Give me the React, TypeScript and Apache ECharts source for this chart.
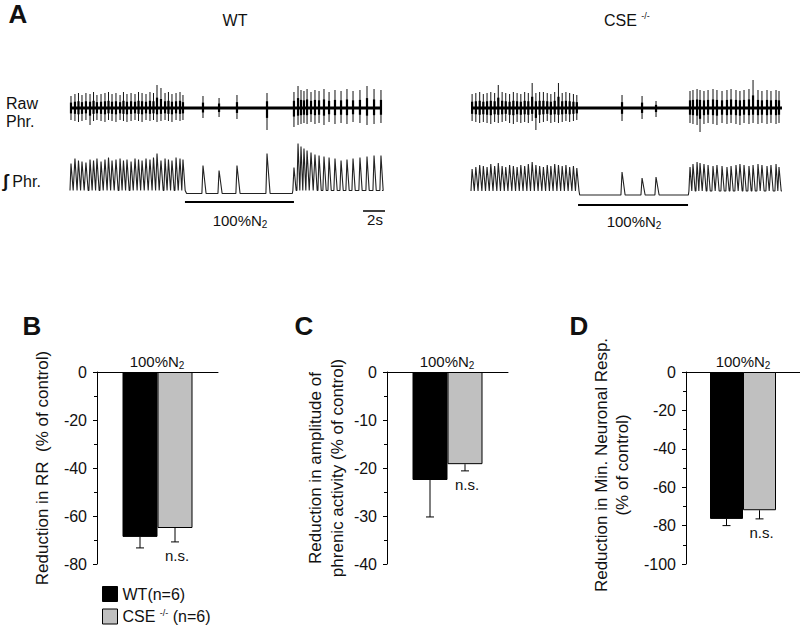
import React, { useEffect, useRef } from "react";
import * as echarts from "echarts";

const FONT = "'Liberation Sans', Arial, Helvetica, sans-serif";

// ---------- Panel A: phrenic nerve recordings (time in s, amplitudes in arbitrary units) ----------
const traceMax = 28.7;
const scaleBarS = [26.64, 28.64]; // 2 s scale bar

// WT
const wtEnd = 28.36;
const wtHypoxia = [10.45, 20.36];
const wtBurstT = [
  0.09, 0.45, 0.77, 1.09, 1.45, 1.82, 2.14, 2.45, 2.82, 3.18,
  3.50, 3.82, 4.18, 4.55, 4.86, 5.18, 5.55, 5.91, 6.23, 6.55,
  6.91, 7.27, 7.59, 7.91, 8.27, 8.64, 8.95, 9.27, 9.64, 10.00, 10.27,
  12.09, 13.55, 15.18, 17.91,
  20.36, 20.73, 21.00, 21.27, 21.55, 21.91, 22.27, 22.64, 23.09, 23.55,
  24.09, 24.64, 25.18, 25.73, 26.36, 27.00, 27.64, 28.27,
];
const wtRawUp = [
  12, 14, 15, 13, 15, 14, 16, 13, 14, 15,
  16, 14, 15, 13, 16, 14, 15, 14, 16, 15,
  14, 16, 15, 23, 20, 15, 16, 14, 15, 16, 13,
  12, 10, 13, 15,
  16, 22, 18, 17, 19, 16, 18, 17, 19, 16,
  18, 17, 19, 17, 18, 22, 19, 18,
];
const wtRawDown = [
  12, 13, 14, 13, 12, 17, 13, 12, 13, 14,
  12, 13, 14, 12, 13, 14, 13, 12, 13, 14,
  12, 13, 12, 14, 13, 12, 13, 14, 12, 13, 12,
  10, 9, 11, 22,
  19, 17, 16, 15, 16, 14, 16, 15, 17, 14,
  16, 15, 16, 14, 15, 17, 16, 15,
];
const wtIntPeak = [
  30, 35, 33, 32, 31, 34, 33, 35, 32, 34,
  36, 33, 34, 35, 33, 34, 32, 35, 34, 33,
  35, 34, 36, 40, 33, 35, 34, 33, 36, 35, 34,
  28, 23, 28, 40,
  26, 50, 47, 45, 43, 41, 39, 38, 37, 36,
  35, 33, 34, 35, 36, 37, 38, 38,
];
const wtTrough = 3;

// CSE-/-
const cseEnd = 28.27;
const cseHypoxia = [9.73, 19.73];
const cseBurstT = [
  0.10, 0.44, 0.79, 1.12, 1.46, 1.80, 2.15, 2.48, 2.83, 3.16,
  3.51, 3.85, 4.19, 4.53, 4.88, 5.21, 5.56, 5.90, 6.24, 6.58,
  6.93, 7.26, 7.61, 7.95, 8.29, 8.63, 8.97, 9.31, 9.62,
  13.73, 15.55, 16.82,
  19.91, 20.18, 20.55, 20.82, 21.18, 21.55, 22.00, 22.36, 22.82, 23.27,
  23.64, 24.09, 24.45, 24.82, 25.27, 25.64, 26.09, 26.45, 26.91, 27.27,
  27.73, 28.00,
];
const cseRawUp = [
  14, 15, 16, 14, 15, 16, 15, 23, 16, 15,
  14, 16, 15, 14, 16, 15, 25, 15, 16, 16,
  15, 14, 16, 25, 15, 16, 15, 14, 13,
  13, 12, 7,
  17, 18, 19, 18, 17, 18, 19, 18, 17, 18,
  19, 18, 17, 18, 19, 28, 18, 17, 18, 17,
  18, 17,
];
const cseRawDown = [
  13, 14, 15, 14, 15, 16, 14, 15, 14, 13,
  15, 16, 14, 15, 14, 15, 13, 22, 15, 14,
  13, 15, 14, 15, 14, 13, 14, 13, 12,
  13, 11, 9,
  15, 16, 17, 24, 16, 15, 16, 17, 15, 16,
  15, 16, 17, 15, 16, 15, 16, 15, 16, 15,
  16, 15,
];
const cseIntPeak = [
  26, 28, 30, 29, 28, 31, 29, 32, 29, 28,
  30, 29, 28, 30, 29, 31, 33, 30, 29, 28,
  30, 29, 31, 30, 29, 30, 28, 29, 27,
  23, 17, 18,
  28, 31, 33, 32, 31, 30, 29, 30, 29, 28,
  29, 30, 31, 30, 29, 30, 31, 30, 29, 30,
  31, 28,
];
const cseTrough = 4;

// ---------- Panels B–D: reduction (% of control), mean and SEM ----------
const wtMean = [-68.7, -22.5, -76.5];
const wtSem = [4.6, 7.7, 3.5];
const cseMean = [-65.0, -19.2, -72.0];
const cseSem = [5.8, 1.4, 4.5];
const yMins = [-80, -40, -100];
const yIntervals = [20, 10, 20];
const seriesNames = ["WT(n=6)", "CSE -/- (n=6)"];

function integratedLine(ts: number[], peaks: number[], hyp: number[], trough: number, end: number) {
  const pts: number[][] = [[0, trough]];
  let prevIn = false;
  ts.forEach((t, i) => {
    const inHyp = t > hyp[0] && t < hyp[1];
    const tr = inHyp ? 0 : trough;
    if (inHyp && !prevIn) pts.push([hyp[0] + 0.15, 0]);
    if (!inHyp && prevIn) pts.push([t - 0.15, 0]);
    prevIn = inHyp;
    const prevGap = i > 0 ? t - ts[i - 1] : 0.4;
    const nextGap = i < ts.length - 1 ? ts[i + 1] - t : 0.4;
    const rise = Math.min(0.1, prevGap * 0.3);
    const fall = Math.min(inHyp ? 0.28 : 0.2, nextGap * 0.6);
    pts.push([t - rise, tr], [t, peaks[i]], [t + fall, tr]);
  });
  pts.push([end, trough]);
  return pts;
}

function rawRender(params: any, api: any) {
  const t = api.value(0);
  const up = api.value(1);
  const dn = api.value(2);
  const a = api.coord([t, up]);
  const b = api.coord([t, -dn]);
  const c = api.coord([t, up * 0.45]);
  const d = api.coord([t, -dn * 0.45]);
  return {
    type: "group",
    children: [
      { type: "line", shape: { x1: a[0], y1: a[1], x2: b[0], y2: b[1] }, style: { stroke: "#111", lineWidth: 1 } },
      { type: "line", shape: { x1: c[0], y1: c[1], x2: d[0], y2: d[1] }, style: { stroke: "#000", lineWidth: 2.2 } },
    ],
  };
}

function traceSeries(
  rawIdx: number, intIdx: number, ts: number[], up: number[], dn: number[], peaks: number[],
  hyp: number[], trough: number, end: number, hypY: number
) {
  return [
    {
      type: "line", xAxisIndex: rawIdx, yAxisIndex: rawIdx, data: [[0, 0], [end, 0]],
      symbol: "none", lineStyle: { color: "#000", width: 3 }, silent: true,
    },
    {
      type: "custom", xAxisIndex: rawIdx, yAxisIndex: rawIdx, clip: false,
      data: ts.map((t, i) => [t, up[i], dn[i]]), encode: { x: 0, y: 1 }, renderItem: rawRender, silent: true,
    },
    {
      type: "line", xAxisIndex: intIdx, yAxisIndex: intIdx, data: integratedLine(ts, peaks, hyp, trough, end),
      symbol: "none", lineStyle: { color: "#222", width: 1.1 }, silent: true,
    },
    {
      type: "line", xAxisIndex: intIdx, yAxisIndex: intIdx, data: [[hyp[0], hypY], [hyp[1], hypY]],
      symbol: "none", lineStyle: { color: "#000", width: 2 }, silent: true,
    },
  ];
}

function errRender(params: any, api: any) {
  const cat = api.value(0);
  const m = api.value(1);
  const e = api.value(2);
  const off = api.value(3);
  const ns = api.value(4);
  const p0 = api.coord([cat, m]);
  const p1 = api.coord([cat, m - e]);
  const x = p0[0] + off;
  const children: any[] = [
    { type: "line", shape: { x1: x, y1: p0[1], x2: x, y2: p1[1] }, style: { stroke: "#000", lineWidth: 1 } },
    { type: "line", shape: { x1: x - 4, y1: p1[1], x2: x + 4, y2: p1[1] }, style: { stroke: "#000", lineWidth: 1 } },
  ];
  if (ns) {
    children.push({
      type: "text", x: x + 2, y: p1[1] + 14,
      style: { text: "n.s.", font: `15px ${FONT}`, fill: "#111", align: "center", verticalAlign: "middle" },
    });
  }
  return { type: "group", children };
}

const n2Rich = {
  a: { fontSize: 15, fontFamily: FONT, lineHeight: 20, fill: "#111" },
  s: { fontSize: 10, fontFamily: FONT, lineHeight: 12, padding: [8, 0, 0, 0], fill: "#111" },
};

function label(x: number, y: number, text: string, size: number, extra: any = {}) {
  return {
    type: "text", x, y,
    style: { text, font: `${extra.bold ? "bold " : ""}${size}px ${FONT}`, fill: "#111", align: extra.align || "center", verticalAlign: "middle" },
  };
}

function buildOption() {
  const barLefts = [97, 387, 686];
  const barWidthsPx = [121, 121, 114];
  const barW = [35, 35, 33];

  const grids: any[] = [
    { left: 70, top: 78, width: 315.7, height: 60 },
    { left: 70, top: 135.5, width: 315.7, height: 83 },
    { left: 471, top: 78, width: 315.7, height: 60 },
    { left: 471, top: 137, width: 315.7, height: 83 },
  ];
  const xAxes: any[] = [];
  const yAxes: any[] = [];
  for (let i = 0; i < 4; i++) {
    xAxes.push({ type: "value", gridIndex: i, min: 0, max: traceMax, show: false });
    yAxes.push(i % 2 === 0
      ? { type: "value", gridIndex: i, min: -30, max: 30, show: false }
      : { type: "value", gridIndex: i, min: -25, max: 58, show: false });
  }

  const series: any[] = [
    ...traceSeries(0, 1, wtBurstT, wtRawUp, wtRawDown, wtIntPeak, wtHypoxia, wtTrough, wtEnd, -8.5),
    ...traceSeries(2, 3, cseBurstT, cseRawUp, cseRawDown, cseIntPeak, cseHypoxia, cseTrough, cseEnd, -10),
    {
      type: "line", xAxisIndex: 1, yAxisIndex: 1, data: [[scaleBarS[0], -17.5], [scaleBarS[1], -17.5]],
      symbol: "none", lineStyle: { color: "#000", width: 1.5 }, silent: true, clip: false,
    },
  ];

  const axisLine = { show: true, onZero: true, lineStyle: { color: "#000", width: 1 } };
  for (let k = 0; k < 3; k++) {
    const gi = 4 + k;
    grids.push({ left: barLefts[k], top: 372, width: barWidthsPx[k], height: 192 });
    xAxes.push({
      type: "category", gridIndex: gi, data: ["100%N2"], axisLine,
      axisTick: { show: false }, axisLabel: { show: false }, splitLine: { show: false },
    });
    yAxes.push({
      type: "value", gridIndex: gi, min: yMins[k], max: 0, interval: yIntervals[k],
      axisLine: { show: true, lineStyle: { color: "#000", width: 1 } },
      axisTick: { show: true, inside: false, length: 4, lineStyle: { color: "#000", width: 1 } },
      minorTick: { show: true, splitNumber: 2, length: 3, lineStyle: { color: "#000", width: 1 } },
      splitLine: { show: false }, minorSplitLine: { show: false },
      axisLabel: { fontSize: 16, fontFamily: FONT, color: "#111", margin: 10 },
    });
    series.push(
      {
        type: "bar", name: seriesNames[0], xAxisIndex: gi, yAxisIndex: gi, data: [wtMean[k]],
        barWidth: barW[k], barGap: "0%", itemStyle: { color: "#000", borderColor: "#000", borderWidth: 1 }, silent: true,
      },
      {
        type: "bar", name: seriesNames[1], xAxisIndex: gi, yAxisIndex: gi, data: [cseMean[k]],
        barWidth: barW[k], barGap: "0%", itemStyle: { color: "#c0c0c0", borderColor: "#000", borderWidth: 1 }, silent: true,
      },
      {
        type: "custom", xAxisIndex: gi, yAxisIndex: gi, clip: false, silent: true,
        encode: { x: 0, y: 1 },
        data: [
          [0, wtMean[k], wtSem[k], -barW[k] / 2, 0],
          [0, cseMean[k], cseSem[k], barW[k] / 2, 1],
        ],
        renderItem: errRender, z: 5,
      }
    );
  }

  const n2 = (x: number, y: number) => ({
    type: "text", x, y, style: { text: "{a|100%N}{s|2}", align: "center", verticalAlign: "middle", rich: n2Rich },
  });

  const graphics: any[] = [
    label(18, 14, "A", 26, { bold: true }),
    label(235, 20, "WT", 16),
    {
      type: "text", x: 604, y: 20,
      style: {
        text: "{t|CSE }{p|-/-}", align: "left", verticalAlign: "middle",
        rich: {
          t: { fontSize: 16, fontFamily: FONT, lineHeight: 18, fill: "#111" },
          p: { fontSize: 9, fontFamily: FONT, lineHeight: 9, verticalAlign: "top", fill: "#111" },
        },
      },
    },
    label(6, 103, "Raw", 16, { align: "left" }),
    label(6, 121, "Phr.", 16, { align: "left" }),
    {
      type: "text", x: 3, y: 181,
      style: {
        text: "{i|∫}{t| Phr.}", align: "left", verticalAlign: "middle",
        rich: {
          i: { fontSize: 18, fontWeight: "bold", fontFamily: FONT, fill: "#111" },
          t: { fontSize: 16, fontFamily: FONT, fill: "#111" },
        },
      },
    },
    n2(240, 220),
    n2(634, 221),
    label(375, 219, "2s", 15),
    label(32, 326, "B", 26, { bold: true }),
    label(304, 326, "C", 26, { bold: true }),
    label(579, 326, "D", 26, { bold: true }),
    n2(157, 361),
    n2(447, 361),
    n2(743, 361),
    {
      type: "text", x: 42, y: 468, rotation: Math.PI / 2,
      style: { text: "Reduction in RR  (% of control)", font: `17px ${FONT}`, fill: "#111", align: "center", verticalAlign: "middle" },
    },
    {
      type: "text", x: 326, y: 468, rotation: Math.PI / 2,
      style: {
        text: "Reduction in amplitude of\nphrenic activity (% of control)", font: `17px ${FONT}`, lineHeight: 22,
        fill: "#111", align: "center", verticalAlign: "middle",
      },
    },
    {
      type: "text", x: 612, y: 465, rotation: Math.PI / 2,
      style: {
        text: "Reduction in Min. Neuronal Resp.\n(% of control)", font: `17px ${FONT}`, lineHeight: 21,
        fill: "#111", align: "center", verticalAlign: "middle",
      },
    },
  ];

  return {
    animation: false,
    backgroundColor: "#fff",
    grid: grids,
    xAxis: xAxes,
    yAxis: yAxes,
    legend: {
      show: true, orient: "vertical", left: 102, top: 586, padding: 0, itemGap: 6,
      itemWidth: 15, itemHeight: 15, icon: "rect", selectedMode: false,
      data: seriesNames,
      itemStyle: { borderColor: "#000", borderWidth: 1 },
      formatter: (name: string) => (name.startsWith("CSE") ? "{t|CSE }{p|-/-}{t| (n=6)}" : "{t|" + name + "}"),
      textStyle: {
        color: "#111", fontFamily: FONT, fontSize: 16,
        rich: {
          t: { fontSize: 16, fontFamily: FONT, color: "#111", lineHeight: 17 },
          p: { fontSize: 9, fontFamily: FONT, color: "#111", lineHeight: 9, verticalAlign: "top" },
        },
      },
    },
    graphic: graphics,
    series,
  };
}

export default function App() {
  const ref = useRef<HTMLDivElement>(null);
  useEffect(() => {
    if (!ref.current) return;
    const chart = echarts.init(ref.current, null, { renderer: "svg" });
    chart.setOption(buildOption() as any);
    return () => chart.dispose();
  }, []);
  return <div ref={ref} style={{ position: "absolute", left: 0, top: 0, width: 800, height: 627, background: "#fff" }} />;
}
